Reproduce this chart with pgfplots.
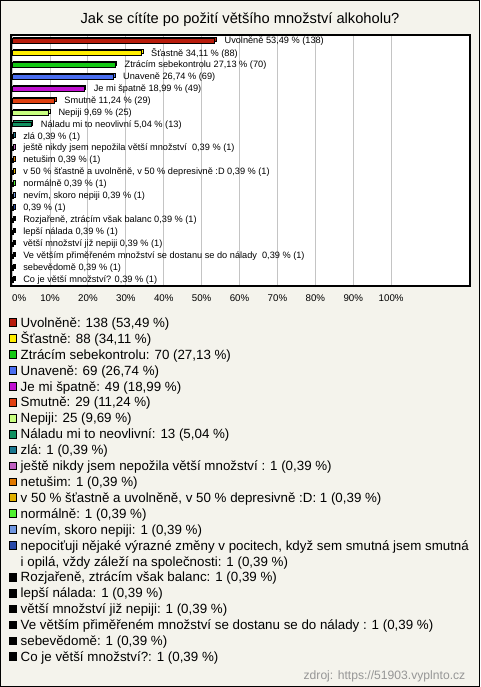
\documentclass[border=0pt]{standalone}
\usepackage{pgfplots}
\pgfplotsset{compat=1.18}
\usepackage{fontspec}
\setmainfont{Liberation Sans}
\definecolor{bg}{HTML}{F4F3EC}
\definecolor{gridgray}{HTML}{C4C4C4}
\definecolor{c1}{HTML}{B81C0C}
\definecolor{c2}{HTML}{FFEE00}
\definecolor{c3}{HTML}{14C814}
\definecolor{c4}{HTML}{4A6EF0}
\definecolor{c5}{HTML}{C010D0}
\definecolor{c6}{HTML}{E04010}
\definecolor{c7}{HTML}{C8FF80}
\definecolor{c8}{HTML}{109060}
\definecolor{c9}{HTML}{1A7890}
\definecolor{c10}{HTML}{C060C0}
\definecolor{c11}{HTML}{E07800}
\definecolor{c12}{HTML}{E0B000}
\definecolor{c13}{HTML}{50F030}
\definecolor{c14}{HTML}{6F96E0}
\definecolor{c15}{HTML}{2848A8}
\definecolor{c16}{HTML}{000000}
\pgfplotsset{
  lg/.style={legend image code/.code={\draw[black,line width=0.6pt,fill=#1] (0pt,-2.9pt) rectangle (5.6pt,2.9pt);}},
  back/.style={xbar, bar shift=0pt, bar width=3.3pt, fill=#1, draw=black, line width=0.6pt, xshift=1.2pt, yshift=1.2pt, forget plot},
  front/.style={xbar, bar shift=0pt, bar width=3.3pt, fill=#1, draw=black, line width=0.6pt, lg=#1,
    nodes near coords align={horizontal},
    every node near coord/.append style={anchor=west, inner sep=0pt, xshift=7pt, font=\fontsize{6.9}{8}\selectfont, text=black}},
}
\begin{document}
\begin{tikzpicture}
\fill[bg] (0,0) rectangle (360pt,-515.25pt);
\draw[black,line width=0.75pt] (0.375pt,-0.375pt) rectangle (359.625pt,-514.875pt);
\node[font=\fontsize{11}{13}\selectfont] at (180pt,-15pt) {Jak se cítíte po požití většího množství alkoholu?};
\node[anchor=east, font=\fontsize{9.1}{11}\selectfont, text={rgb,255:red,150;green,150;blue,150}] at (352.5pt,-507pt) {zdroj: https://51903.vyplnto.cz};
\begin{axis}[
  at={(8.25pt,-26.25pt)}, anchor=north west,
  scale only axis, width=344.25pt, height=188.25pt,
  xmin=-0.3, xmax=120.8, ymin=-0.5, ymax=20.5, y dir=reverse,
  axis background/.style={fill=white},
  axis line style={black, line width=1.1pt},
  xtick={0,10,...,100},
  xticklabels={\makebox[0pt][l]{0\%},10\%,20\%,30\%,40\%,50\%,60\%,70\%,80\%,90\%,100\%},
  ytick=\empty,
  major tick length=0pt,
  xmajorgrids, grid style={draw=gridgray, line width=0.75pt},
  xticklabel style={font=\fontsize{7.3}{8}\selectfont, anchor=center, yshift=-9pt},
  /pgf/number format/assume math mode=true,
  clip=false,
  legend cell align=left,
  legend style={at={(axis description cs:-0.00436,-0.1145)}, anchor=north west,
    draw=none, fill=none, inner sep=0pt, outer sep=0pt, row sep=0pt, column sep=2.6pt,
    font=\fontsize{10}{12}\selectfont,
    nodes={inner sep=0pt, text height=9.5pt, text depth=2.43pt}},
]
\addplot[back=c1] coordinates {(53.49,0)};
\addplot[front=c1, nodes near coords={Uvolněně 53,49 \% (138)}] coordinates {(53.49,0)};
\addlegendentry{Uvolněně: 138 (53,49 \%)}
\addplot[back=c2] coordinates {(34.11,1)};
\addplot[front=c2, nodes near coords={Šťastně 34,11 \% (88)}] coordinates {(34.11,1)};
\addlegendentry{Šťastně: 88 (34,11 \%)}
\addplot[back=c3] coordinates {(27.13,2)};
\addplot[front=c3, nodes near coords={Ztrácím sebekontrolu 27,13 \% (70)}] coordinates {(27.13,2)};
\addlegendentry{Ztrácím sebekontrolu: 70 (27,13 \%)}
\addplot[back=c4] coordinates {(26.74,3)};
\addplot[front=c4, nodes near coords={Unaveně 26,74 \% (69)}] coordinates {(26.74,3)};
\addlegendentry{Unaveně: 69 (26,74 \%)}
\addplot[back=c5] coordinates {(18.99,4)};
\addplot[front=c5, nodes near coords={Je mi špatně 18,99 \% (49)}] coordinates {(18.99,4)};
\addlegendentry{Je mi špatně: 49 (18,99 \%)}
\addplot[back=c6] coordinates {(11.24,5)};
\addplot[front=c6, nodes near coords={Smutně 11,24 \% (29)}] coordinates {(11.24,5)};
\addlegendentry{Smutně: 29 (11,24 \%)}
\addplot[back=c7] coordinates {(9.69,6)};
\addplot[front=c7, nodes near coords={Nepiji 9,69 \% (25)}] coordinates {(9.69,6)};
\addlegendentry{Nepiji: 25 (9,69 \%)}
\addplot[back=c8] coordinates {(5.04,7)};
\addplot[front=c8, nodes near coords={Náladu mi to neovlivní 5,04 \% (13)}] coordinates {(5.04,7)};
\addlegendentry{Náladu mi to neovlivní: 13 (5,04 \%)}
\addplot[back=c9] coordinates {(0.39,8)};
\addplot[front=c9, nodes near coords={zlá 0,39 \% (1)}] coordinates {(0.39,8)};
\addlegendentry{zlá: 1 (0,39 \%)}
\addplot[back=c10] coordinates {(0.39,9)};
\addplot[front=c10, nodes near coords={ještě nikdy jsem nepožila větší množství\ \ 0,39 \% (1)}] coordinates {(0.39,9)};
\addlegendentry{ještě nikdy jsem nepožila větší množství : 1 (0,39 \%)}
\addplot[back=c11] coordinates {(0.39,10)};
\addplot[front=c11, nodes near coords={netušim 0,39 \% (1)}] coordinates {(0.39,10)};
\addlegendentry{netušim: 1 (0,39 \%)}
\addplot[back=c12] coordinates {(0.39,11)};
\addplot[front=c12, nodes near coords={v 50 \% šťastně a uvolněně, v 50 \% depresivně :D 0,39 \% (1)}] coordinates {(0.39,11)};
\addlegendentry{v 50 \% šťastně a uvolněně, v 50 \% depresivně :D: 1 (0,39 \%)}
\addplot[back=c13] coordinates {(0.39,12)};
\addplot[front=c13, nodes near coords={normálně 0,39 \% (1)}] coordinates {(0.39,12)};
\addlegendentry{normálně: 1 (0,39 \%)}
\addplot[back=c14] coordinates {(0.39,13)};
\addplot[front=c14, nodes near coords={nevím, skoro nepiji 0,39 \% (1)}] coordinates {(0.39,13)};
\addlegendentry{nevím, skoro nepiji: 1 (0,39 \%)}
\addplot[back=c15] coordinates {(0.39,14)};
\addplot[front=c15, nodes near coords={0,39 \% (1)}] coordinates {(0.39,14)};
\addlegendentry{nepociťuji nějaké výrazné změny v pocitech, když sem smutná jsem smutná}
\addlegendimage{empty legend}
\addlegendentry{i opilá, vždy záleží na společnosti: 1 (0,39 \%)}
\addplot[back=c16] coordinates {(0.39,15)};
\addplot[front=c16, nodes near coords={Rozjařeně, ztrácím však balanc 0,39 \% (1)}] coordinates {(0.39,15)};
\addlegendentry{Rozjařeně, ztrácím však balanc: 1 (0,39 \%)}
\addplot[back=c16] coordinates {(0.39,16)};
\addplot[front=c16, nodes near coords={lepší nálada 0,39 \% (1)}] coordinates {(0.39,16)};
\addlegendentry{lepší nálada: 1 (0,39 \%)}
\addplot[back=c16] coordinates {(0.39,17)};
\addplot[front=c16, nodes near coords={větší množství již nepiji 0,39 \% (1)}] coordinates {(0.39,17)};
\addlegendentry{větší množství již nepiji: 1 (0,39 \%)}
\addplot[back=c16] coordinates {(0.39,18)};
\addplot[front=c16, nodes near coords={Ve větším přiměřeném množství se dostanu se do nálady\ \ 0,39 \% (1)}] coordinates {(0.39,18)};
\addlegendentry{Ve větším přiměřeném množství se dostanu se do nálady : 1 (0,39 \%)}
\addplot[back=c16] coordinates {(0.39,19)};
\addplot[front=c16, nodes near coords={sebevědomě 0,39 \% (1)}] coordinates {(0.39,19)};
\addlegendentry{sebevědomě: 1 (0,39 \%)}
\addplot[back=c16] coordinates {(0.39,20)};
\addplot[front=c16, nodes near coords={Co je větší množství? 0,39 \% (1)}] coordinates {(0.39,20)};
\addlegendentry{Co je větší množství?: 1 (0,39 \%)}
\end{axis}
\end{tikzpicture}
\end{document}
